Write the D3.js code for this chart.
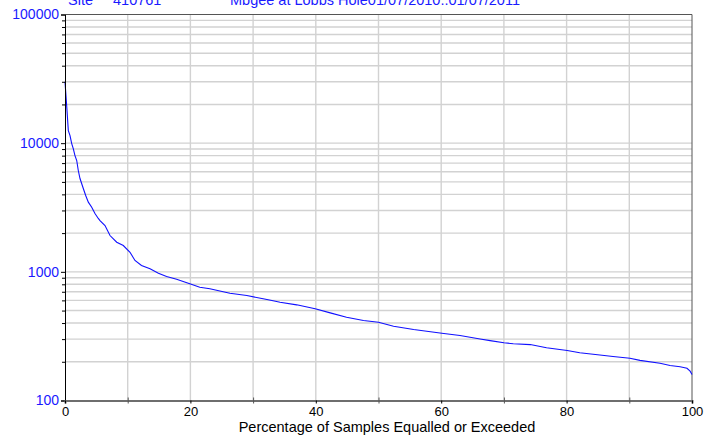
<!DOCTYPE html>
<html>
<head>
<meta charset="utf-8">
<script src="https://cdn.jsdelivr.net/npm/d3@7/dist/d3.min.js"></script>
<style>
  html, body { margin: 0; padding: 0; background: #fff; }
  svg { display: block; }
  text { font-family: "Liberation Sans", Arial, sans-serif; }
</style>
</head>
<body>
<svg id="chart" width="706" height="436"></svg>
<script>
// Flow duration curve: percentage of samples equalled or exceeded vs flow
const percent = [0, 0.32, 0.53, 0.8, 1.07, 1.32, 1.59, 1.87, 2.12, 2.39, 2.92, 3.3, 3.72, 4.26, 4.78, 5.31,
  5.58, 6.38, 7.18, 8.25, 9.3, 10.37, 11.16, 12.2, 13.56, 14.9, 16.2, 17.8, 19.9, 21.5, 23.1, 26.3,
  29, 31.6, 33, 34.3, 36.95, 39.9, 42.3, 44.9, 47.6, 50, 52.4, 55.6, 60.1, 63, 66.2, 67.8, 70, 71.5,
  74.2, 76.8, 80.1, 82.1, 85.3, 87.4, 90.1, 91.7, 94.9, 96.5, 98.1, 99.2, 99.7, 100];
const flow = [30000, 17900, 12500, 11450, 9930, 9080, 8010, 7330, 6130, 5310, 4440, 3920, 3480, 3180, 2840, 2600,
  2500, 2290, 1915, 1700, 1600, 1420, 1225, 1120, 1055, 975, 919, 876, 807, 759, 738, 682,
  654, 617, 598, 580, 554, 516, 480, 444, 418, 406, 378, 356, 333, 320, 301, 292, 281, 276,
  272, 257, 245, 235, 226, 220, 213, 205, 195, 187, 183, 178, 169, 159];

const xMajorTicks = [0, 20, 40, 60, 80, 100];
const xMinorTicks = [10, 30, 50, 70, 90];
const yMajorTicks = [100, 1000, 10000, 100000];
const yMinorTicks = [200, 300, 400, 500, 600, 700, 800, 900,
  2000, 3000, 4000, 5000, 6000, 7000, 8000, 9000,
  20000, 30000, 40000, 50000, 60000, 70000, 80000, 90000];

const titleParts = ["Site", "410761", "Mbgee at Lobbs Hole01/07/2010..01/07/2011"];
const xTitle = "Percentage of Samples Equalled or Exceeded";

const svg = d3.select("#chart");
const plotLeft = 65, plotRight = 692, plotTop = 14.5, plotBottom = 400.5;

const x = d3.scaleLinear().domain([0, 100]).range([plotLeft, plotRight]);
const y = d3.scaleLog().domain([100, 100000]).range([plotBottom, plotTop]);

// grid
const grid = svg.append("g").attr("stroke", "#d2d2d2").attr("stroke-width", 1.4);
grid.selectAll("line.h").data(yMinorTicks.concat([1000, 10000])).join("line")
  .attr("x1", plotLeft).attr("x2", plotRight)
  .attr("y1", d => y(d)).attr("y2", d => y(d));
grid.selectAll("line.v").data(d3.range(10, 100, 10)).join("line")
  .attr("y1", plotTop).attr("y2", plotBottom)
  .attr("x1", d => x(d)).attr("x2", d => x(d));

// frame: top and right
svg.append("line").attr("x1", plotLeft).attr("x2", plotRight).attr("y1", plotTop).attr("y2", plotTop)
  .attr("stroke", "#555").attr("stroke-width", 1);
svg.append("line").attr("x1", plotRight).attr("x2", plotRight).attr("y1", plotTop).attr("y2", plotBottom)
  .attr("stroke", "#555").attr("stroke-width", 1);

// curve
const line = d3.line().x(d => x(d[0])).y(d => y(d[1]));
svg.append("path")
  .datum(percent.map((p, i) => [p, flow[i]]))
  .attr("fill", "none").attr("stroke", "#1010ff").attr("stroke-width", 1.1)
  .attr("d", line);

// y axis
const yAxis = svg.append("g").attr("transform", `translate(${plotLeft},0)`)
  .call(d3.axisLeft(y).tickValues(yMajorTicks).tickSize(4).tickPadding(2)
    .tickFormat(d3.format("d")));
yAxis.select(".domain").attr("stroke", "#000");
yAxis.selectAll("text").attr("fill", "#1a1aff").style("font-size", "14px")
  .style("font-family", '"Liberation Sans", Arial, sans-serif');
svg.append("g").attr("transform", `translate(${plotLeft},0)`)
  .call(d3.axisLeft(y).tickValues(yMinorTicks).tickSize(3).tickFormat(""))
  .call(g => g.select(".domain").remove());

// x axis
const xAxis = svg.append("g").attr("transform", `translate(0,${plotBottom})`)
  .call(d3.axisBottom(x).tickValues(xMajorTicks).tickSize(3).tickPadding(3).tickFormat(d3.format("d")));
xAxis.select(".domain").attr("stroke", "#6e6e6e").attr("stroke-width", 2);
xAxis.selectAll("text").attr("fill", "#000").style("font-size", "13px")
  .style("font-family", '"Liberation Sans", Arial, sans-serif');
svg.append("g").attr("transform", `translate(0,${plotBottom})`)
  .call(d3.axisBottom(x).tickValues(xMinorTicks).tickSize(3).tickFormat(""))
  .call(g => g.select(".domain").remove())
  .selectAll("line").attr("y1", -3).attr("stroke", "#555");

// axis title
svg.append("text").attr("x", 387).attr("y", 432).attr("text-anchor", "middle")
  .style("font-size", "14.5px").attr("fill", "#000").text(xTitle);

// header line (sits at the very top edge of the page)
const titleX = [68, 113, 230];
svg.selectAll("text.title").data(titleParts).join("text").attr("class", "title")
  .attr("x", (d, i) => titleX[i]).attr("y", 5)
  .style("font-size", "14.5px").attr("fill", "#1a1aff").text(d => d);
</script>
</body>
</html>
